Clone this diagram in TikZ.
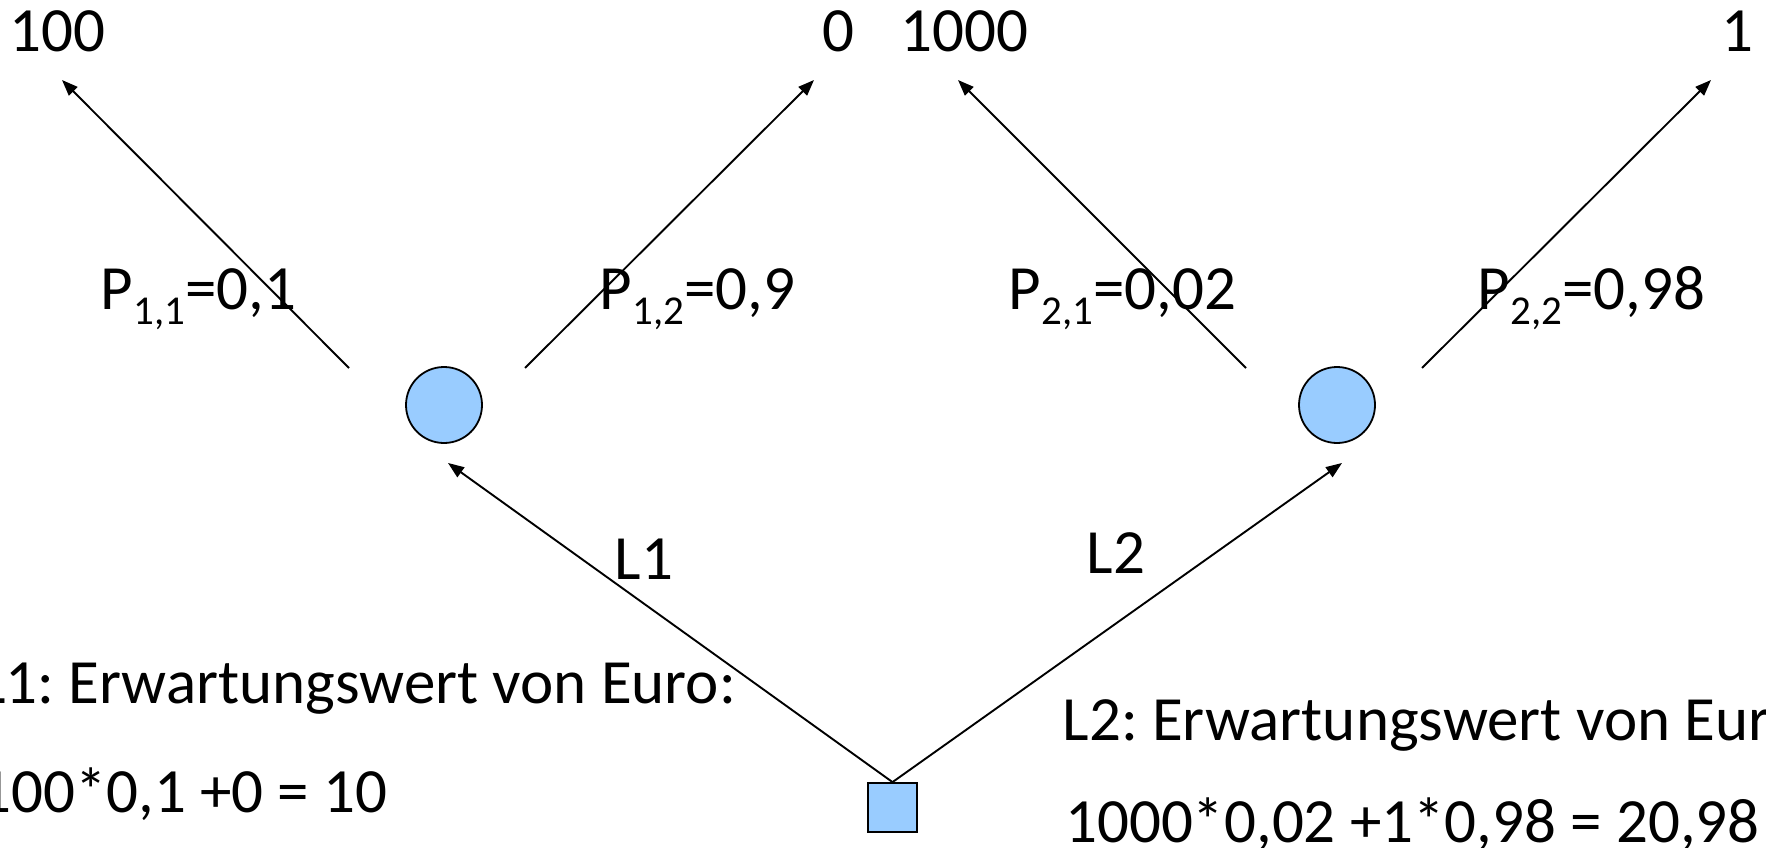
\documentclass[tikz,border=0pt]{standalone}
\usepackage{fontspec}
\setmainfont{Carlito}
\frenchspacing
\usetikzlibrary{arrows.meta}
\definecolor{nodeblue}{RGB}{153,204,255}
\newcommand{\psub}[1]{\raisebox{-15pt}{\fontsize{41}{41}\selectfont #1}}
\tikzset{
  txt/.style={inner sep=0pt, anchor=base west, font=\fontsize{63}{75}\selectfont},
  chance/.style={circle, draw=black, line width=1.8pt, fill=nodeblue, minimum size=76pt, inner sep=0pt},
  decision/.style={rectangle, draw=black, line width=1.8pt, fill=nodeblue, minimum size=49pt, inner sep=0pt},
  arr/.style={line width=1.9pt, -{Triangle[length=16pt, width=12pt]}}
}
\begin{document}
\begin{tikzpicture}[x=1pt, y=-1pt]
\useasboundingbox (0,0) rectangle (1766,848);
\clip (0,0) rectangle (1766,848);
% nodes
\node[chance] (c1) at (444,405) {};
\node[chance] (c2) at (1337,405) {};
\node[decision] (sq) at (892.5,807.5) {};
% free ends
\coordinate (t1) at (448,463);
\coordinate (t2) at (1342,463);
\coordinate (b11s) at (349,368); \coordinate (b11e) at (62,80);
\coordinate (b12s) at (525,368); \coordinate (b12e) at (814,80);
\coordinate (b21s) at (1246,368); \coordinate (b21e) at (958,80);
\coordinate (b22s) at (1422,368); \coordinate (b22e) at (1711,80);
% connectors
\draw[arr] (sq.north) -- (t1);
\draw[arr] (sq.north) -- (t2);
\draw[arr] (b11s) -- (b11e);
\draw[arr] (b12s) -- (b12e);
\draw[arr] (b21s) -- (b21e);
\draw[arr] (b22s) -- (b22e);
% outcome values
\node[txt] (v11) at (9,52) {100};
\node[txt] (v12) at (822,52) {0};
\node[txt] (v21) at (900,52) {1000};
\node[txt] (v22) at (1721,52) {1};
% probabilities
\node[txt] (p11) at (100.5,309) {P\psub{1,1}=0,1};
\node[txt] (p12) at (599.5,309) {P\psub{1,2}=0,9};
\node[txt] (p21) at (1008.5,309) {P\psub{2,1}=0,02};
\node[txt] (p22) at (1477.5,309) {P\psub{2,2}=0,98};
% lottery labels
\node[txt] (l1) at (614.5,579) {L1};
\node[txt] (l2) at (1086.5,573) {L2};
% expected values
\node[txt] (e1a) at (-21,703) {L1: Erwartungswert von Euro:};
\node[txt] (e1b) at (-21,812) {100*0,1 +0 = 10};
\node[txt] (e2a) at (1062.5,740) {L2: Erwartungswert von Euro:};
\node[txt] (e2b) at (1065,842) {1000*0,02 +1*0,98 = 20,98};
\end{tikzpicture}
\end{document}
